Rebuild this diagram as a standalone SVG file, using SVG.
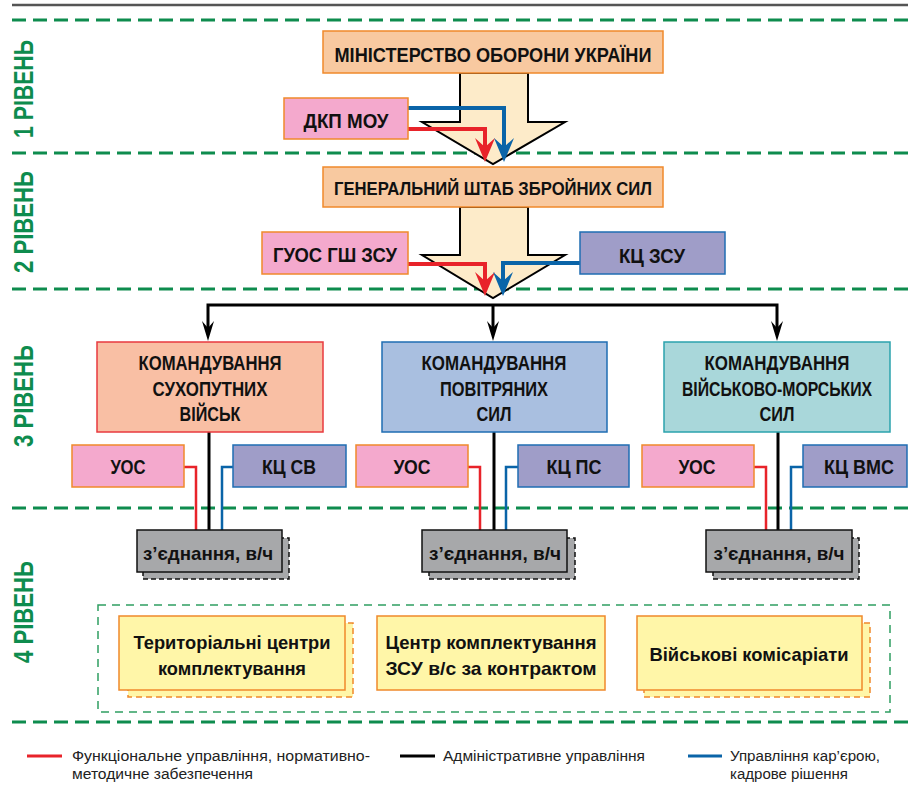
<svg xmlns="http://www.w3.org/2000/svg" xmlns:xlink="http://www.w3.org/1999/xlink" width="908" height="800" viewBox="0 0 908 800">
<style>
.t{font-family:"Liberation Sans",Arial,sans-serif;font-weight:bold;fill:#111;text-anchor:middle}
.lv{font-family:"Liberation Sans",Arial,sans-serif;font-weight:bold;fill:#0e8c4e;font-size:27px;text-anchor:middle}
.lg{font-family:"Liberation Sans",Arial,sans-serif;fill:#222;font-size:15.5px}
.sep{stroke:#0e8c4e;stroke-width:3;stroke-dasharray:14 7;fill:none}
.peach{fill:#f8c9a0;stroke:#f0892b;stroke-width:1.5}
.pink{fill:#f4a9cd;stroke:#f0892b;stroke-width:1.5}
.lav{fill:#9f9dc8;stroke:#1f6db3;stroke-width:1.5}
.gray{fill:#a7a8aa;stroke:#111;stroke-width:1.5}
.grays{fill:#a7a8aa;stroke:#111;stroke-width:1.5;stroke-dasharray:5 3}
.yel{fill:#fff6a8;stroke:#f0892b;stroke-width:1.5}
.yels{fill:#fff6a8;stroke:#f0892b;stroke-width:1.5;stroke-dasharray:6 4}
.red{stroke:#e8232a;fill:none}
.blue{stroke:#0a64a8;fill:none}
.blk{stroke:#000;fill:none}
.barrow{fill:#fdebc9;stroke:#000;stroke-width:2;stroke-linejoin:miter}
</style>
<defs>
<path id="ahR" d="M0,0 L-10,-24 L0,-15 L10,-24 Z" fill="#e8232a"/>
<path id="ahB" d="M0,0 L-10,-24 L0,-15 L10,-24 Z" fill="#0a64a8"/>
<path id="ahK" d="M0,0 L-6,-20 L0,-13 L6,-20 Z" fill="#000"/>
</defs>
<rect width="908" height="800" fill="#fff"/>
<line x1="12" y1="5" x2="908" y2="5" stroke="#555" stroke-width="2.5"/>
<g id="separators">
<line class="sep" x1="12" y1="20" x2="908" y2="20"/>
<line class="sep" x1="12" y1="153" x2="908" y2="153"/>
<line class="sep" x1="12" y1="289" x2="908" y2="289"/>
<line class="sep" x1="12" y1="508" x2="908" y2="508"/>
<line class="sep" x1="12" y1="722" x2="908" y2="722"/>
</g>
<g id="levels">
<text class="lv" transform="translate(33,89) rotate(-90)" textLength="98" lengthAdjust="spacingAndGlyphs">1 РІВЕНЬ</text>
<text class="lv" transform="translate(33,222) rotate(-90)" textLength="102" lengthAdjust="spacingAndGlyphs">2 РІВЕНЬ</text>
<text class="lv" transform="translate(33,396) rotate(-90)" textLength="102" lengthAdjust="spacingAndGlyphs">3 РІВЕНЬ</text>
<text class="lv" transform="translate(33,612) rotate(-90)" textLength="102" lengthAdjust="spacingAndGlyphs">4 РІВЕНЬ</text>
</g>
<g id="block-arrows">
<polygon class="barrow" points="460,73 460,122 422,122 493,164 565,122 528,122 528,73"/>
<polygon class="barrow" points="460,207 460,255 422,255 493,298 565,255 528,255 528,207"/>
</g>
<g id="connectors">
<path class="blue" stroke-width="4" d="M408,108 H504 V150"/>
<path class="red" stroke-width="4" d="M408,129 H485 V150"/>
<use xlink:href="#ahR" x="485" y="162"/>
<use xlink:href="#ahB" x="504" y="162"/>
<path class="red" stroke-width="4" d="M408,264 H485 V284"/>
<path class="blue" stroke-width="4" d="M580,263 H503 V284"/>
<use xlink:href="#ahR" x="485" y="296"/>
<use xlink:href="#ahB" x="503" y="296"/>
<path class="blk" stroke-width="3" d="M208,333 V305 H777 V333"/>
<path class="blk" stroke-width="3" d="M493,305 V333"/>
<use xlink:href="#ahK" x="208" y="341"/>
<use xlink:href="#ahK" x="493" y="341"/>
<use xlink:href="#ahK" x="777" y="341"/>
<path class="blk" stroke-width="3" d="M209,432 V530"/>
<path class="red" stroke-width="2.5" d="M184,467 H196 V530"/>
<path class="blue" stroke-width="2.5" d="M233,467 H222 V530"/>
<path class="blk" stroke-width="3" d="M494,432 V530"/>
<path class="red" stroke-width="2.5" d="M468,467 H480 V530"/>
<path class="blue" stroke-width="2.5" d="M518,467 H506 V530"/>
<path class="blk" stroke-width="3" d="M778,432 V530"/>
<path class="red" stroke-width="2.5" d="M754,467 H766 V530"/>
<path class="blue" stroke-width="2.5" d="M803,467 H791 V530"/>
</g>
<g id="mou">
<rect class="peach" x="323" y="31" width="340" height="42"/>
<text class="t" x="493" y="62" font-size="20" textLength="317" lengthAdjust="spacingAndGlyphs">МІНІСТЕРСТВО ОБОРОНИ УКРАЇНИ</text>
</g>
<g id="dkp">
<rect class="pink" x="284" y="98" width="124" height="41"/>
<text class="t" x="346" y="128" font-size="20" textLength="85" lengthAdjust="spacingAndGlyphs">ДКП МОУ</text>
</g>
<g id="gsh">
<rect class="peach" x="323" y="167" width="340" height="40"/>
<text class="t" x="493" y="195" font-size="19" textLength="318" lengthAdjust="spacingAndGlyphs">ГЕНЕРАЛЬНИЙ ШТАБ ЗБРОЙНИХ СИЛ</text>
</g>
<g id="guos">
<rect class="pink" x="262" y="232" width="146" height="42"/>
<text class="t" x="335" y="262" font-size="20" textLength="124" lengthAdjust="spacingAndGlyphs">ГУОС ГШ ЗСУ</text>
</g>
<g id="kc-zsu">
<rect class="lav" x="580" y="232" width="145" height="42"/>
<text class="t" x="652" y="263" font-size="20" textLength="66" lengthAdjust="spacingAndGlyphs">КЦ ЗСУ</text>
</g>
<g id="cmd-sv">
<rect x="97" y="342" width="226" height="90" fill="#f9bfa4" stroke="#e83a3f" stroke-width="1.5"/>
<text class="t" x="210" y="370" font-size="20" textLength="143" lengthAdjust="spacingAndGlyphs">КОМАНДУВАННЯ</text>
<text class="t" x="210" y="396" font-size="20" textLength="115" lengthAdjust="spacingAndGlyphs">СУХОПУТНИХ</text>
<text class="t" x="210" y="421" font-size="20" textLength="61" lengthAdjust="spacingAndGlyphs">ВІЙСЬК</text>
</g>
<g id="cmd-ps">
<rect x="382" y="342" width="225" height="90" fill="#a9bfe0" stroke="#1f6db3" stroke-width="1.5"/>
<text class="t" x="494" y="370" font-size="20" textLength="145" lengthAdjust="spacingAndGlyphs">КОМАНДУВАННЯ</text>
<text class="t" x="494" y="396" font-size="20" textLength="108" lengthAdjust="spacingAndGlyphs">ПОВІТРЯНИХ</text>
<text class="t" x="494" y="421" font-size="20" textLength="35" lengthAdjust="spacingAndGlyphs">СИЛ</text>
</g>
<g id="cmd-vms">
<rect x="664" y="342" width="226" height="90" fill="#a9d7da" stroke="#2ba3ad" stroke-width="1.5"/>
<text class="t" x="777" y="370" font-size="20" textLength="145" lengthAdjust="spacingAndGlyphs">КОМАНДУВАННЯ</text>
<text class="t" transform="translate(777,396) scale(0.79,1)" x="0" y="0" font-size="20">ВІЙСЬКОВО-МОРСЬКИХ</text>
<text class="t" x="777" y="421" font-size="20" textLength="35" lengthAdjust="spacingAndGlyphs">СИЛ</text>
</g>
<g id="uos-sv">
<rect class="pink" x="72" y="445" width="112" height="42"/>
<text class="t" x="128" y="474" font-size="20" textLength="35" lengthAdjust="spacingAndGlyphs">УОС</text>
</g>
<g id="kc-sv">
<rect class="lav" x="233" y="445" width="113" height="42"/>
<text class="t" x="289" y="474" font-size="20" textLength="54" lengthAdjust="spacingAndGlyphs">КЦ СВ</text>
</g>
<g id="uos-ps">
<rect class="pink" x="356" y="445" width="112" height="42"/>
<text class="t" x="412" y="474" font-size="20" textLength="37" lengthAdjust="spacingAndGlyphs">УОС</text>
</g>
<g id="kc-ps">
<rect class="lav" x="518" y="445" width="111" height="42"/>
<text class="t" x="574" y="474" font-size="20" textLength="55" lengthAdjust="spacingAndGlyphs">КЦ ПС</text>
</g>
<g id="uos-vms">
<rect class="pink" x="642" y="445" width="112" height="42"/>
<text class="t" x="697" y="474" font-size="20" textLength="37" lengthAdjust="spacingAndGlyphs">УОС</text>
</g>
<g id="kc-vms">
<rect class="lav" x="803" y="445" width="104" height="42"/>
<text class="t" x="859" y="474" font-size="20" textLength="70" lengthAdjust="spacingAndGlyphs">КЦ ВМС</text>
</g>
<g id="unit-sv">
<rect class="grays" x="143" y="538" width="146" height="41"/>
<rect class="gray" x="137" y="530" width="145" height="42"/>
<text class="t" x="208" y="560" font-size="19" textLength="130" lengthAdjust="spacingAndGlyphs">з’єднання, в/ч</text>
</g>
<g id="unit-ps">
<rect class="grays" x="429" y="538" width="146" height="41"/>
<rect class="gray" x="422" y="530" width="145" height="42"/>
<text class="t" x="495" y="560" font-size="19" textLength="132" lengthAdjust="spacingAndGlyphs">з’єднання, в/ч</text>
</g>
<g id="unit-vms">
<rect class="grays" x="713" y="538" width="146" height="41"/>
<rect class="gray" x="706" y="530" width="146" height="42"/>
<text class="t" x="779" y="560" font-size="19" textLength="131" lengthAdjust="spacingAndGlyphs">з’єднання, в/ч</text>
</g>
<g id="level4">
<rect x="98" y="605" width="792" height="107" fill="none" stroke="#2f9e62" stroke-width="1.5" stroke-dasharray="8 6"/>
</g>
<g id="tck">
<rect class="yels" x="128" y="623" width="225" height="74"/>
<rect class="yel" x="119" y="616" width="226" height="74"/>
<text class="t" x="232" y="649" font-size="19" textLength="197" lengthAdjust="spacingAndGlyphs">Територіальні центри</text>
<text class="t" x="232" y="675" font-size="19" textLength="148" lengthAdjust="spacingAndGlyphs">комплектування</text>
</g>
<g id="ck">
<rect class="yel" x="377" y="616" width="228" height="74"/>
<text class="t" x="491" y="649" font-size="19" textLength="211" lengthAdjust="spacingAndGlyphs">Центр комплектування</text>
<text class="t" x="491" y="675" font-size="19" textLength="211" lengthAdjust="spacingAndGlyphs">ЗСУ в/с за контрактом</text>
</g>
<g id="vk">
<rect class="yels" x="644" y="623" width="226" height="74"/>
<rect class="yel" x="637" y="616" width="225" height="74"/>
<text class="t" x="749" y="661" font-size="19" textLength="199" lengthAdjust="spacingAndGlyphs">Військові комісаріати</text>
</g>
<g id="legend">
<line x1="27" y1="756" x2="62" y2="756" stroke="#e8232a" stroke-width="3"/>
<text class="lg" x="72" y="761" textLength="298" lengthAdjust="spacingAndGlyphs">Функціональне управління, нормативно-</text>
<text class="lg" x="72" y="779" textLength="181" lengthAdjust="spacingAndGlyphs">методичне забезпечення</text>
<line x1="400" y1="756" x2="435" y2="756" stroke="#000" stroke-width="3"/>
<text class="lg" x="443" y="761" textLength="202" lengthAdjust="spacingAndGlyphs">Адміністративне управління</text>
<line x1="688" y1="756" x2="722" y2="756" stroke="#0a64a8" stroke-width="3"/>
<text class="lg" x="730" y="761" textLength="150" lengthAdjust="spacingAndGlyphs">Управління кар’єрою,</text>
<text class="lg" x="730" y="779" textLength="118" lengthAdjust="spacingAndGlyphs">кадрове рішення</text>
</g>
</svg>
